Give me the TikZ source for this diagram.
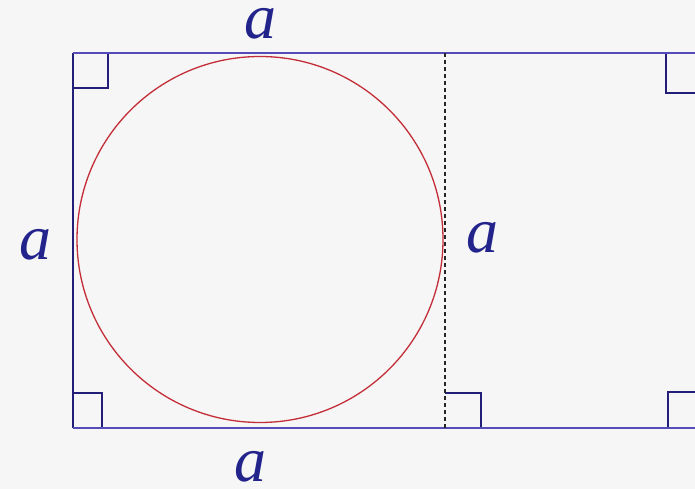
\documentclass[tikz,border=0pt]{standalone}
\usepackage{fontspec}
\setmainfont{Liberation Serif}
\definecolor{navy}{RGB}{35,30,120}
\definecolor{edgeblue}{RGB}{85,75,185}
\definecolor{circred}{RGB}{195,45,55}
\definecolor{labblue}{RGB}{35,35,140}
\definecolor{bg}{RGB}{246,246,246}
\tikzset{
  edge/.style={line width=1.8pt, edgeblue},
  side/.style={line width=1.8pt, navy},
  ramark/.style={line width=1.5pt, navy},
  dashline/.style={line width=1.3pt, black!85, dash pattern=on 4pt off 3pt},
  lab/.style={text=labblue, font=\fontsize{64}{64}\selectfont\itshape, inner sep=0pt}
}
\begin{document}
\begin{tikzpicture}[x=1pt,y=-1pt]
\fill[bg] (0,0) rectangle (695,489);
\useasboundingbox (0,0) rectangle (695,489);
\coordinate (TL) at (73,53);
\coordinate (BL) at (73,428);
\coordinate (TM) at (445,53);
\coordinate (BM) at (445,428);
\coordinate (TR) at (700,53);
\coordinate (BR) at (700,428);
% right-angle marks
\draw[ramark] (73,88) -- (108,88) -- (108,53);
\draw[ramark] (73,393) -- (102,393) -- (102,428);
\draw[ramark] (445,393) -- (481,393) -- (481,428);
\draw[ramark] (700,93) -- (666,93) -- (666,53);
\draw[ramark] (700,392) -- (668,392) -- (668,428);
% frame
\draw[side] (TL) -- (BL);
\draw[edge] (TL) -- (TR);
\draw[edge] (BL) -- (BR);
\draw[dashline] (TM) -- (BM);
% circle
\node[draw=circred, line width=1.3pt, circle, minimum size=366pt, inner sep=0pt] (c) at (260,239.5) {};
% labels
\node[lab] (la) at (260,24) {a};
\node[lab] (lb) at (35,245) {a};
\node[lab] (lc) at (482,238) {a};
\node[lab] (ld) at (250,467) {a};
\end{tikzpicture}
\end{document}
